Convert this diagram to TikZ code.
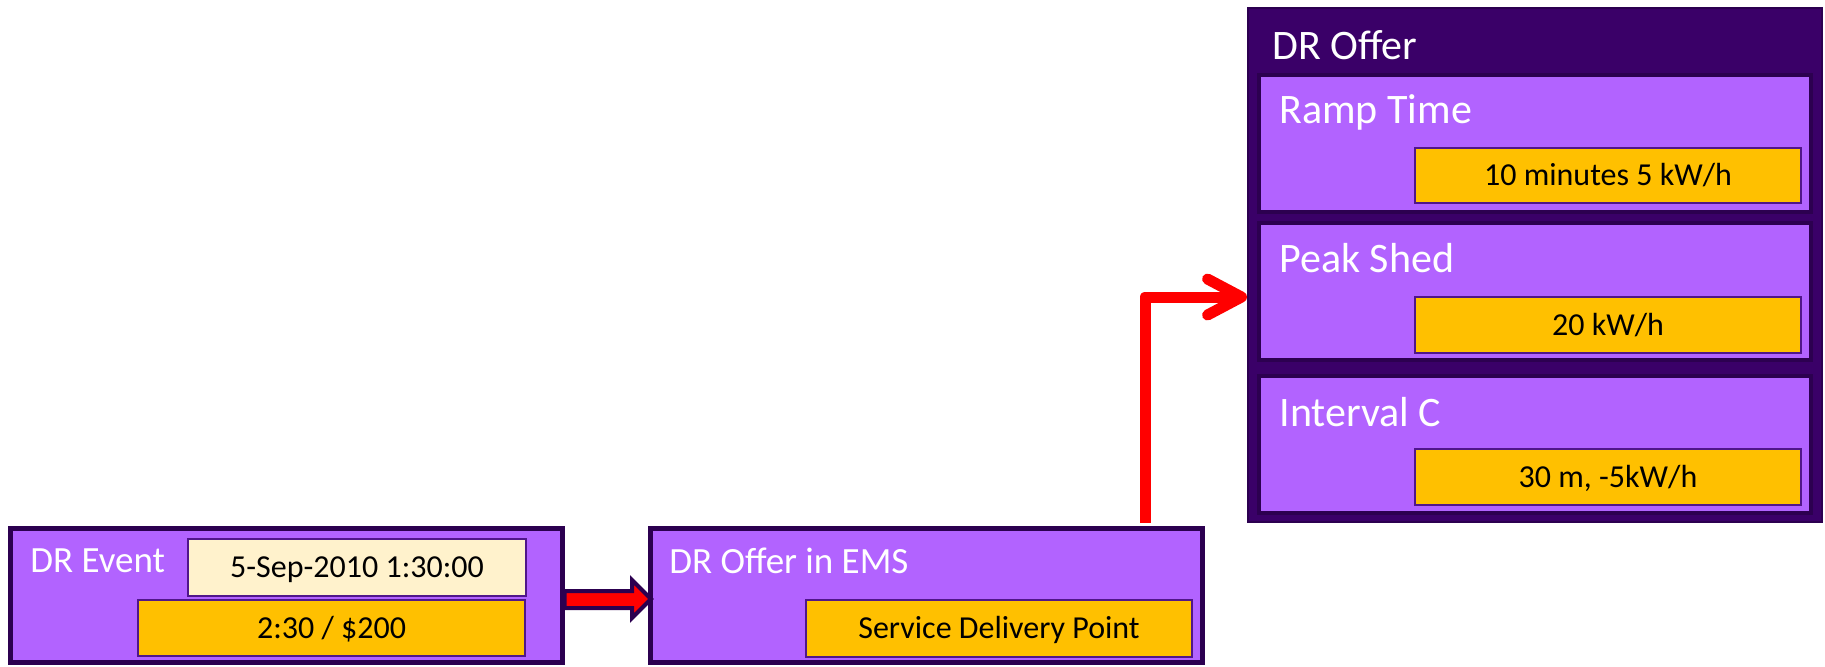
\documentclass[tikz,border=0pt]{standalone}
\usepackage{fontspec}
\setmainfont{Carlito}
\usetikzlibrary{fit,calc,arrows.meta}

\definecolor{lilac}{HTML}{B263FF}
\definecolor{plum}{HTML}{3A0068}
\definecolor{edge}{HTML}{2C0050}
\definecolor{amber}{HTML}{FFC000}
\definecolor{cream}{HTML}{FFF2CC}
\definecolor{trim}{HTML}{50168A}
\definecolor{alarm}{HTML}{FF0000}

\begin{document}
\begin{tikzpicture}[x=0.5pt,y=-0.5pt,
  panel/.style={draw=edge, fill=lilac, line width=2.5pt, inner sep=0pt},
  subpanel/.style={draw=edge, fill=lilac, line width=2pt, inner sep=0pt},
  frame/.style={draw=edge, fill=plum, line width=1pt, inner sep=0pt},
  valtext/.style={text=black, inner sep=0pt, text height=10.3pt, text depth=0pt,
    font=\fontsize{16}{18}\selectfont},
  valbox/.style={draw=trim, fill=amber, line width=1pt, inner sep=0pt,
    label={[valtext]center:{#1}}},
  datebox/.style={valbox={#1}, fill=cream},
  heading/.style={text=white, inner sep=0pt, anchor=base west},
  bighead/.style={heading, font=\fontsize{21}{24}\selectfont},
  smallhead/.style={heading, font=\fontsize{18.5}{21}\selectfont},
  blockarrow/.style={draw=edge, fill=alarm, line width=2pt, line join=miter},
  redline/.style={draw=alarm, line width=5.5pt, line join=round,
    -{Straight Barb[length=17pt, width=18pt, round]}},
]
\useasboundingbox (0,0) rectangle (1825,666);

% left event panel
\node[panel, fit={(10,528) (562,662)}] (event) {};
\node[smallhead] (eventtitle) at (30,572) {DR Event};
\node[datebox={5-Sep-2010 1:30:00}, fit={(188,539) (526,596)}] (date) {};
\node[valbox={2:30 / \$200}, fit={(138,600) (525,656)}] (price) {};

% middle EMS panel
\node[panel, fit={(650.5,528) (1202.5,662)}] (ems) {};
\node[smallhead] (emstitle) at (669,573) {DR Offer in EMS};
\node[valbox={Service Delivery Point}, fit={(806,600) (1192,657)}] (sdp) {};

% right offer panel with its three parts
\node[frame, fit={(1248,8) (1822,522)}] (offer) {};
\node[bighead] (offertitle) at (1272,59) {DR Offer};

\node[subpanel, fit={(1259,75) (1811,212)}] (ramp) {};
\node[bighead] (ramptitle) at (1279,123) {Ramp Time};
\node[valbox={10 minutes 5 kW/h}, fit={(1415,148) (1801,203)}] (rampval) {};

\node[subpanel, fit={(1259,223) (1811,360)}] (peak) {};
\node[bighead] (peaktitle) at (1279,272) {Peak Shed};
\node[valbox={20 kW/h}, fit={(1415,297) (1801,353)}] (peakval) {};

\node[subpanel, fit={(1259,376) (1811,513)}] (interval) {};
\node[bighead] (intervaltitle) at (1279,426) {Interval C};
\node[valbox={30 m, -5kW/h}, fit={(1415,449) (1801,505)}] (intervalval) {};

% block arrow from the event to the EMS
\draw[blockarrow]
  ($(event.east)+(0,-4)$) -- ($(ems.west)+(-16,-4)$) -- ($(ems.west)+(-16,-15)$)
  -- ($(ems.west)+(3,4)$)
  -- ($(ems.west)+(-16,23)$) -- ($(ems.west)+(-16,13)$) -- ($(event.east)+(0,13)$)
  -- cycle;

% elbow arrow from the EMS up to the offer
\draw[redline] ($(ems.north east)+(-60,-3)$) |- ($(offer.west |- peak.center)+(0,5.5)$);
\end{tikzpicture}
\end{document}
